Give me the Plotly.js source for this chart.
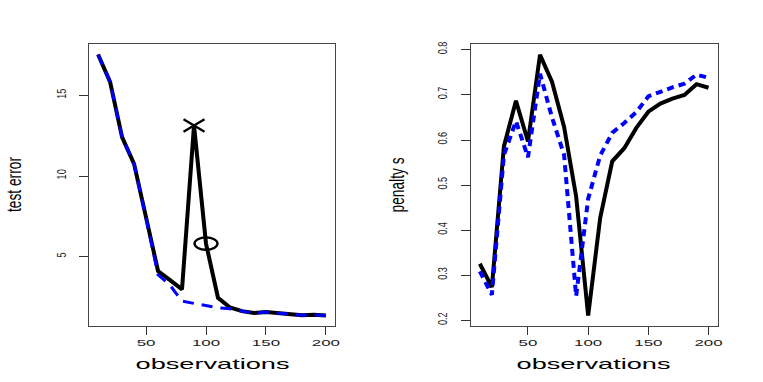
<!DOCTYPE html>
<html>
<head>
<meta charset="utf-8">
<script src="https://cdn.plot.ly/plotly-3.0.1.min.js"></script>
<style>
html,body{margin:0;padding:0;background:#fff;}
#chart{width:763px;height:382px;}
</style>
</head>
<body>
<div id="chart"></div>
<script>
// ---- data ----
const observations = [10,20,30,40,50,60,70,80,90,100,110,120,130,140,150,160,170,180,190,200];
const testErrorSolid = [17.55,15.85,12.43,10.77,7.45,4.13,3.56,2.99,13.15,5.83,2.47,1.87,1.64,1.52,1.58,1.53,1.48,1.39,1.41,1.37];
const testErrorDashed = [17.55,15.85,12.43,10.77,7.40,3.90,3.25,2.26,2.12,1.99,1.85,1.79,1.64,1.50,1.58,1.53,1.48,1.39,1.41,1.37];
const penaltySolid = [0.326,0.274,0.586,0.687,0.597,0.789,0.729,0.629,0.475,0.211,0.428,0.553,0.582,0.627,0.663,0.681,0.692,0.700,0.724,0.716];
const penaltyDotted = [0.309,0.257,0.567,0.642,0.562,0.747,0.650,0.567,0.254,0.470,0.566,0.616,0.638,0.662,0.697,0.708,0.717,0.725,0.745,0.738];
const markLabels = ["X","O"];
const markObs = [90,100];
const xTicks = [50,100,150,200];
const yTicksLeft = [5,10,15];
const yTicksRight = [0.2,0.3,0.4,0.5,0.6,0.7,0.8];
const xTitle = "observations";
const yTitleLeft = "test error";
const yTitleRight = "penalty s";

// ---- traces ----
const traces = [
  {x: observations, y: testErrorSolid, xaxis:'x', yaxis:'y', mode:'lines',
   line:{color:'#000', width:4}, hoverinfo:'skip'},
  {x: observations, y: testErrorDashed, xaxis:'x', yaxis:'y', mode:'lines',
   line:{color:'#0000ff', width:3, dash:'11px,8px'}, hoverinfo:'skip'},
  {x: observations, y: penaltySolid, xaxis:'x2', yaxis:'y2', mode:'lines',
   line:{color:'#000', width:4}, hoverinfo:'skip'},
  {x: observations, y: penaltyDotted, xaxis:'x2', yaxis:'y2', mode:'lines',
   line:{color:'#0000ff', width:4, dash:'7px,5px'}, hoverinfo:'skip'}
];

// markers "X" and "O" drawn as pixel-sized shapes anchored at data points
const shapes = [];
markObs.forEach((ox, k) => {
  const i = observations.indexOf(ox);
  const yv = testErrorSolid[i];
  const base = {xref:'x', yref:'y', xsizemode:'pixel', ysizemode:'pixel',
                xanchor: ox, yanchor: yv, line:{color:'#000', width:2.3}};
  if (markLabels[k] === "X") {
    shapes.push(Object.assign({type:'line', x0:-10.5, x1:10.5, y0:-6.3, y1:6.3}, base));
    shapes.push(Object.assign({type:'line', x0:-10.5, x1:10.5, y0:6.3, y1:-6.3}, base));
  } else {
    shapes.push(Object.assign({type:'circle', x0:-11.5, x1:11.5, y0:-6.2, y1:6.2}, base));
  }
});

const tickFontX = {family:'Liberation Sans, Arial, sans-serif', size:9.5, color:'#222'};
const tickFontY = {family:'Liberation Sans, Arial, sans-serif', size:13, color:'#222'};
const commonX = {ticks:'outside', ticklen:8, tickcolor:'#333', tickwidth:1,
  showline:true, mirror:true, linecolor:'#444', linewidth:1,
  showgrid:false, zeroline:false, tickvals:xTicks, tickfont:tickFontX,
  range:[2.4,207.6], fixedrange:true};
const commonY = {ticks:'outside', ticklen:9, tickcolor:'#333', tickwidth:1,
  showline:true, mirror:true, linecolor:'#444', linewidth:1,
  showgrid:false, zeroline:false, tickangle:-90, tickfont:tickFontY, fixedrange:true};

const titleFontX = {family:'Liberation Sans, Arial, sans-serif', size:15, color:'#000'};
const titleFontY = {family:'Liberation Sans, Arial, sans-serif', size:21, color:'#000'};

const layout = {
  width:763, height:382,
  margin:{l:0, r:0, t:0, b:0},
  paper_bgcolor:'#fff', plot_bgcolor:'#fff',
  showlegend:false,
  xaxis: Object.assign({}, commonX, {domain:[0.1166,0.4391], anchor:'y'}),
  yaxis: Object.assign({}, commonY, {domain:[0.1466,0.8848], anchor:'x',
          range:[0.72,18.2], tickvals:yTicksLeft, ticklabelstandoff:8}),
  xaxis2: Object.assign({}, commonX, {domain:[0.6169,0.9406], anchor:'y2'}),
  yaxis2: Object.assign({}, commonY, {domain:[0.1466,0.8848], anchor:'x2',
          range:[0.188,0.813], tickvals:yTicksRight, ticklabelstandoff:9}),
  shapes: shapes,
  annotations: [
    {text:xTitle, xref:'paper', yref:'paper', x:0.2779, y:0.0497, showarrow:false,
     xanchor:'center', yanchor:'middle', font:titleFontX},
    {text:xTitle, xref:'paper', yref:'paper', x:0.7772, y:0.0497, showarrow:false,
     xanchor:'center', yanchor:'middle', font:titleFontX},
    {text:yTitleLeft, xref:'paper', yref:'paper', x:0.0164, y:0.5157, showarrow:false,
     xanchor:'center', yanchor:'middle', textangle:-90, font:titleFontY},
    {text:yTitleRight, xref:'paper', yref:'paper', x:0.519, y:0.5157, showarrow:false,
     xanchor:'center', yanchor:'middle', textangle:-90, font:titleFontY}
  ]
};

function stretchTo(nodes, fn) {
  nodes.forEach(t => {
    const L = t.getComputedTextLength();
    if (L > 0) {
      t.setAttribute('textLength', fn(L).toFixed(2));
      t.setAttribute('lengthAdjust', 'spacingAndGlyphs');
    }
  });
}

Plotly.newPlot('chart', traces, layout, {staticPlot:true, displayModeBar:false}).then(gd => {
  stretchTo(gd.querySelectorAll('g.xtick text, g.x2tick text'), L => L * 1.78);
  stretchTo(gd.querySelectorAll('g.ytick text, g.y2tick text'), L => L * 0.70);
  const ann = gd.querySelectorAll('text.annotation-text');
  stretchTo([ann[0], ann[1]], L => L * 1.81);
  stretchTo([ann[2], ann[3]], L => 55);
});
</script>
</body>
</html>
